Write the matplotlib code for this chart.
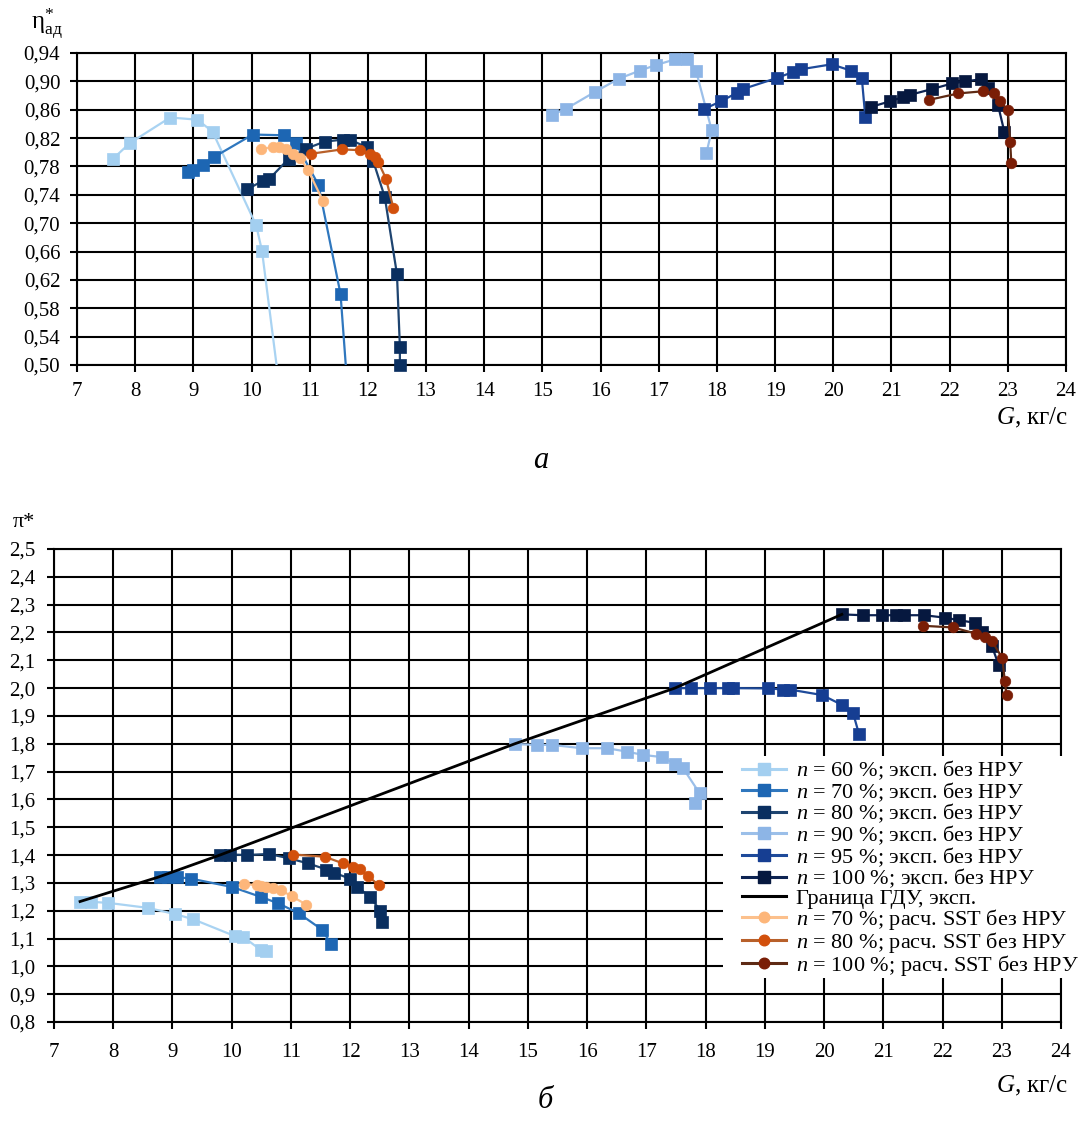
import numpy as np
import matplotlib
matplotlib.use('Agg')
import matplotlib.pyplot as plt
from matplotlib.lines import Line2D
from matplotlib.patches import Rectangle

plt.rcParams['font.family'] = ['Liberation Serif', 'DejaVu Serif']
plt.rcParams['mathtext.fontset'] = 'custom'
plt.rcParams['mathtext.rm'] = 'Liberation Serif'
plt.rcParams['mathtext.it'] = 'Liberation Serif:italic'

# ---------------- panel a: efficiency ----------------
g60_a = [7.62, 7.91, 8.60, 9.07, 9.33, 10.08, 10.18, 10.50, 10.58]
e60_a = [0.791, 0.813, 0.849, 0.846, 0.829, 0.697, 0.661, 0.455, 0.400]
g70_a = [8.91, 8.99, 9.16, 9.35, 10.02, 10.55, 10.76, 11.15, 11.53, 11.68]
e70_a = [0.772, 0.775, 0.782, 0.793, 0.825, 0.824, 0.813, 0.754, 0.600, 0.433]
g80_a = [9.93, 10.20, 10.30, 10.64, 10.93, 11.26, 11.58, 11.69, 11.98, 12.09, 12.29, 12.50, 12.55, 12.55]
e80_a = [0.748, 0.760, 0.762, 0.791, 0.805, 0.815, 0.818, 0.818, 0.807, 0.788, 0.737, 0.628, 0.526, 0.500]
g90_a = [15.17, 15.40, 15.90, 16.32, 16.67, 16.95, 17.28, 17.49, 17.64, 17.91, 17.82]
e90_a = [0.853, 0.861, 0.885, 0.904, 0.915, 0.923, 0.931, 0.931, 0.915, 0.831, 0.799]
g95_a = [17.78, 18.07, 18.35, 18.44, 19.04, 19.30, 19.44, 19.97, 20.31, 20.49, 20.55]
e95_a = [0.861, 0.872, 0.884, 0.889, 0.905, 0.913, 0.917, 0.924, 0.915, 0.905, 0.850]
g100_a = [20.65, 20.98, 21.20, 21.32, 21.69, 22.04, 22.27, 22.54, 22.66, 22.83, 22.94]
e100_a = [0.864, 0.872, 0.878, 0.881, 0.889, 0.897, 0.900, 0.903, 0.891, 0.867, 0.829]
gs70_a = [10.17, 10.37, 10.48, 10.60, 10.72, 10.83, 10.97, 11.23]
es70_a = [0.804, 0.808, 0.807, 0.804, 0.798, 0.792, 0.775, 0.731]
gs80_a = [11.03, 11.55, 11.86, 12.03, 12.12, 12.18, 12.31, 12.44]
es80_a = [0.798, 0.804, 0.803, 0.798, 0.793, 0.786, 0.763, 0.721]
gs100_a = [21.65, 22.15, 22.57, 22.77, 22.86, 23.00, 23.04, 23.06]
es100_a = [0.874, 0.883, 0.886, 0.883, 0.872, 0.860, 0.815, 0.785]

# ---------------- panel b: pressure ratio ----------------
g60_b = [7.44, 7.63, 7.92, 8.59, 9.04, 9.34, 10.05, 10.19, 10.50, 10.58]
p60_b = [1.233, 1.232, 1.228, 1.210, 1.188, 1.170, 1.109, 1.107, 1.057, 1.055]
g70_b = [8.79, 8.93, 9.07, 9.32, 10.01, 10.50, 10.78, 11.13, 11.53, 11.68]
p70_b = [1.321, 1.321, 1.321, 1.315, 1.285, 1.249, 1.227, 1.191, 1.131, 1.079]
g80_b = [9.80, 9.97, 10.25, 10.63, 10.97, 11.29, 11.60, 11.72, 12.00, 12.12, 12.33, 12.51, 12.54]
p80_b = [1.402, 1.402, 1.400, 1.404, 1.388, 1.370, 1.348, 1.337, 1.315, 1.285, 1.251, 1.200, 1.158]
g90_b = [14.78, 15.15, 15.40, 15.91, 16.33, 16.67, 16.94, 17.27, 17.48, 17.62, 17.90, 17.82]
p90_b = [1.799, 1.796, 1.796, 1.784, 1.784, 1.772, 1.760, 1.752, 1.727, 1.712, 1.622, 1.587]
g95_b = [17.48, 17.76, 18.07, 18.38, 18.47, 19.06, 19.31, 19.42, 19.97, 20.30, 20.49, 20.59]
p95_b = [2.000, 2.000, 2.000, 2.000, 2.000, 1.999, 1.995, 1.995, 1.975, 1.940, 1.910, 1.835]
g100_b = [20.30, 20.65, 20.97, 21.22, 21.35, 21.69, 22.05, 22.28, 22.54, 22.66, 22.83, 22.95]
p100_b = [2.265, 2.262, 2.262, 2.262, 2.262, 2.262, 2.253, 2.244, 2.235, 2.200, 2.153, 2.082]
g_surge = [7.44, 8.75, 9.80, 14.78, 17.48, 20.30]
p_surge = [1.233, 1.320, 1.400, 1.800, 2.000, 2.265]
gs70_b = [10.21, 10.42, 10.50, 10.58, 10.70, 10.84, 11.01, 11.26]
ps70_b = [1.297, 1.291, 1.289, 1.285, 1.281, 1.273, 1.252, 1.222]
gs80_b = [11.03, 11.57, 11.88, 12.04, 12.16, 12.30, 12.48]
ps80_b = [1.402, 1.394, 1.370, 1.358, 1.349, 1.324, 1.293]
gs100_b = [21.67, 22.18, 22.56, 22.72, 22.83, 23.01, 23.05, 23.08]
ps100_b = [2.224, 2.218, 2.196, 2.185, 2.170, 2.108, 2.027, 1.975]

# ---------------- ticks ----------------
g_ticks = list(range(7, 25))
g_tick_labels = [str(v) for v in g_ticks]
eta_ticks = [0.50, 0.54, 0.58, 0.62, 0.66, 0.70, 0.74, 0.78, 0.82, 0.86, 0.90, 0.94]
eta_tick_labels = ['0,50', '0,54', '0,58', '0,62', '0,66', '0,70', '0,74', '0,78', '0,82', '0,86', '0,90', '0,94']
pi_ticks = [0.8, 0.9, 1.0, 1.1, 1.2, 1.3, 1.4, 1.5, 1.6, 1.7, 1.8, 1.9, 2.0, 2.1, 2.2, 2.3, 2.4, 2.5]
pi_tick_labels = ['0,8', '0,9', '1,0', '1,1', '1,2', '1,3', '1,4', '1,5', '1,6', '1,7', '1,8', '1,9',
                  '2,0', '2,1', '2,2', '2,3', '2,4', '2,5']

legend_labels = [r'$n$ = 60 %; эксп. без НРУ', r'$n$ = 70 %; эксп. без НРУ', r'$n$ = 80 %; эксп. без НРУ',
                 r'$n$ = 90 %; эксп. без НРУ', r'$n$ = 95 %; эксп. без НРУ', r'$n$ = 100 %; эксп. без НРУ',
                 'Граница ГДУ, эксп.', r'$n$ = 70 %; расч. SST без НРУ', r'$n$ = 80 %; расч. SST без НРУ',
                 r'$n$ = 100 %; расч. SST без НРУ']

# styles: (line colour, marker colour, marker)
styles = [
    ('#a9d3f2', '#a3cff0', 's'),
    ('#2f77be', '#1d66b3', 's'),
    ('#1e4470', '#0a2f60', 's'),
    ('#9bbfe9', '#8db5e6', 's'),
    ('#1e4a9a', '#163e92', 's'),
    ('#0d2352', '#06183f', 's'),
    ('#000000', '#000000', None),
    ('#fcc08c', '#fdb67a', 'o'),
    ('#b8602a', '#d2500c', 'o'),
    ('#5e2a14', '#7a1e06', 'o'),
]

fig = plt.figure(figsize=(10.85, 11.26), dpi=100)
W, H = 1085.0, 1126.0
axA = fig.add_axes([77 / W, 1 - 365 / H, 989 / W, 312 / H])
axB = fig.add_axes([54 / W, 1 - 1022 / H, 1007 / W, 473 / H])

MS = 8.0


def draw(ax, g, v, idx, ylim):
    lc, mc, mk = styles[idx]
    g = np.asarray(g)
    v = np.asarray(v)
    lw = 2.0 if idx == 6 else 1.6
    ax.plot(g, v, color=lc, lw=lw, zorder=3 + idx * 0.1, solid_joinstyle='round')
    if mk is not None:
        m = (v >= ylim[0] - 1e-9) & (v <= ylim[1] + 1e-9)
        ms = MS if mk == 's' else MS * 0.95
        ax.plot(g[m], v[m], ls='none', marker=mk, ms=ms, mfc=mc, mec=mc, mew=0.5,
                zorder=3.05 + idx * 0.1, clip_on=False)


def style_axes(ax, yt, ytl, ylim, xpad, ypad):
    ax.set_xlim(7, 24)
    ax.set_ylim(*ylim)
    ax.set_xticks(g_ticks)
    ax.set_xticklabels(g_tick_labels)
    ax.set_yticks(yt)
    ax.set_yticklabels(ytl)
    ax.grid(True, color='black', lw=1.5)
    ax.set_axisbelow(True)
    for s in ax.spines.values():
        s.set_color('black')
        s.set_linewidth(1.5)
    ax.tick_params(direction='out', length=5, width=1.5, color='black', labelsize=15)
    ax.tick_params(axis='x', pad=xpad)
    ax.tick_params(axis='y', pad=ypad)


ylimA = (0.50, 0.94)
ylimB = (0.8, 2.5)
style_axes(axA, eta_ticks, eta_tick_labels, ylimA, 7.0, 7.0)
style_axes(axB, pi_ticks, pi_tick_labels, ylimB, 10.0, 8.5)

draw(axA, g60_a, e60_a, 0, ylimA)
draw(axA, g70_a, e70_a, 1, ylimA)
draw(axA, g80_a, e80_a, 2, ylimA)
draw(axA, g90_a, e90_a, 3, ylimA)
draw(axA, g95_a, e95_a, 4, ylimA)
draw(axA, g100_a, e100_a, 5, ylimA)
draw(axA, gs70_a, es70_a, 7, ylimA)
draw(axA, gs80_a, es80_a, 8, ylimA)
draw(axA, gs100_a, es100_a, 9, ylimA)

draw(axB, g60_b, p60_b, 0, ylimB)
draw(axB, g70_b, p70_b, 1, ylimB)
draw(axB, g80_b, p80_b, 2, ylimB)
draw(axB, g90_b, p90_b, 3, ylimB)
draw(axB, g95_b, p95_b, 4, ylimB)
draw(axB, g100_b, p100_b, 5, ylimB)
draw(axB, g_surge, p_surge, 6, ylimB)
draw(axB, gs70_b, ps70_b, 7, ylimB)
draw(axB, gs80_b, ps80_b, 8, ylimB)
draw(axB, gs100_b, ps100_b, 9, ylimB)

# white backing behind the legend (covers grid like the original)
bg = Rectangle((723 / W, 1 - 978 / H), (1085 - 723) / W, (978 - 756) / H, transform=fig.transFigure,
               facecolor='white', edgecolor='none', zorder=9)
axB.add_artist(bg)
bg.set_clip_on(False)

handles = []
for i, (lc, mc, mk) in enumerate(styles):
    handles.append(Line2D([], [], color=lc, lw=2.2, marker=mk if mk else None,
                          ms=MS if mk == 's' else MS * 0.95, mfc=mc, mec=mc))
leg = axB.legend(handles, legend_labels, loc='upper left', bbox_to_anchor=(0.681, 0.5615),
                 frameon=False, fontsize=16, handlelength=2.0, handletextpad=0.44,
                 labelspacing=-0.09, borderpad=0.1, borderaxespad=0.0, numpoints=1)
leg.set_zorder(10)

# axis titles
fig.text(31 / W, 1 - 24 / H, r'$\mathrm{η}^{*}_{\mathrm{ад}}$', fontsize=18, ha='left', va='center')
fig.text(13 / W, 1 - 522 / H, 'π*', fontsize=16, ha='left', va='center')
fig.text(1068 / W, 1 - 418 / H, r'$G$, кг/с', fontsize=18, ha='right', va='center')
fig.text(1068 / W, 1 - 1086 / H, r'$G$, кг/с', fontsize=18, ha='right', va='center')
fig.text(541 / W, 1 - 460 / H, 'а', fontsize=22, style='italic', ha='center', va='center')
fig.text(545 / W, 1 - 1100 / H, 'б', fontsize=22, style='italic', ha='center', va='center')

fig.savefig('out.png', dpi=100)
